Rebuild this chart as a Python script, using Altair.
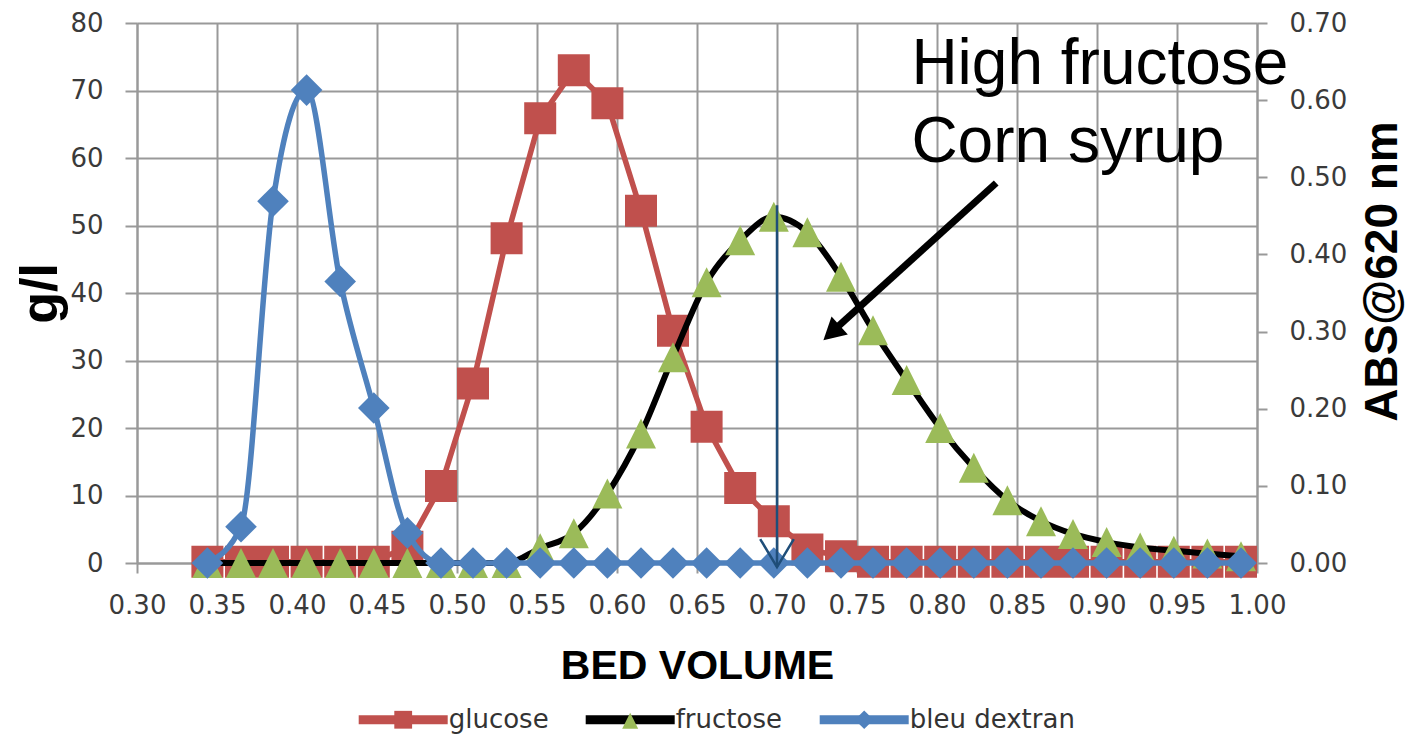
import altair as alt
import pandas as pd

# ---------------- data ----------------
bed_volume = [0.344, 0.365, 0.385, 0.406, 0.427, 0.448, 0.469, 0.490, 0.510, 0.531,
              0.552, 0.573, 0.594, 0.615, 0.635, 0.656, 0.677, 0.698, 0.719, 0.740,
              0.760, 0.781, 0.802, 0.823, 0.844, 0.865, 0.885, 0.906, 0.927, 0.948,
              0.969, 0.990]
glucose = [0.2, 0.2, 0.2, 0.2, 0.2, 0.2, 2.4, 11.4, 26.6, 48.1,
           65.9, 73.0, 68.1, 52.2, 34.4, 20.2, 11.1, 6.2, 2.0, 1.0,
           0.2, 0.2, 0.2, 0.2, 0.2, 0.2, 0.2, 0.2, 0.2, 0.2,
           0.2, 0.2]
fructose = [0.0, 0.0, 0.0, 0.0, 0.0, 0.0, 0.0, 0.0, 0.0, 0.0,
            2.2, 4.4, 10.3, 19.2, 30.5, 41.6, 47.8, 51.3, 49.0, 42.4,
            34.5, 27.1, 20.0, 14.1, 9.3, 6.2, 4.3, 3.1, 2.3, 1.8,
            1.4, 1.0]
bleu_dextran = [0.0, 0.047, 0.469, 0.613, 0.365, 0.201, 0.039, 0.0, 0.0, 0.0,
                0.0, 0.0, 0.0, 0.0, 0.0, 0.0, 0.0, 0.0, 0.0, 0.0,
                0.0, 0.0, 0.0, 0.0, 0.0, 0.0, 0.0, 0.0, 0.0, 0.0,
                0.0, 0.0]

series_names = ["glucose", "fructose", "bleu dextran"]
marker_keys = ["glucose ", "fructose ", "bleu dextran "]
x_ticks = [0.30, 0.35, 0.40, 0.45, 0.50, 0.55, 0.60, 0.65, 0.70, 0.75, 0.80,
           0.85, 0.90, 0.95, 1.00]
left_ticks = [0, 10, 20, 30, 40, 50, 60, 70, 80]
right_ticks = [0.0, 0.1, 0.2, 0.3, 0.4, 0.5, 0.6, 0.7]

# annotation (in bed volume / g/l coordinates)
note_text = ["High fructose", "Corn syrup"]
note_x = [0.784, 0.784]
note_y = [71.0, 59.4]
arrow_from_x = [0.837]
arrow_from_y = [56.3]
arrow_to_x = [0.737]
arrow_to_y = [34.8]
arrow_tip_x = [0.729]
arrow_tip_y = [33.0]
marker_x = [0.70]
marker_top = [53.0]
marker_tip = [-0.6]

# ---------------- styling ----------------
RED = "#C0504D"
GREEN = "#9BBB59"
BLUE = "#4F81BD"
DARKBLUE = "#1F4E79"
GRID = "#999999"
LBL = "#3a3a3a"
TICKFONT = "DejaVu Sans"

TRI = "M0,-1L1,1L-1,1Z"
HEAD = "M0,0L1.1,2L-1.1,2Z"
VHEAD = "M-1.2,-2L0,0L1.2,-2"
BAND = "M-1,-0.1H1V0.1H-1Z"
LEG_SQ = "M-1,0M1,0M-0.2,-0.2H0.2V0.2H-0.2Z"
LEG_TRI = "M-1,0M1,0M0,-0.16L0.18,0.2L-0.18,0.2Z"
LEG_DIA = "M-1,0M1,0M0,-0.21L0.21,0L0,0.21L-0.21,0Z"

df_glu = pd.DataFrame({"x": bed_volume, "y": glucose})
df_fru = pd.DataFrame({"x": bed_volume, "y": fructose})
df_blu = pd.DataFrame({"x": bed_volume, "y": bleu_dextran})
df_note = pd.DataFrame({"x": note_x, "y": note_y, "t": note_text})
df_arrow = pd.DataFrame({"x": arrow_from_x, "y": arrow_from_y, "x2": arrow_to_x, "y2": arrow_to_y})
df_tip = pd.DataFrame({"x": arrow_tip_x, "y": arrow_tip_y})
df_marker = pd.DataFrame({"x": marker_x, "y": marker_top, "y2": marker_tip})
df_mtip = pd.DataFrame({"x": marker_x, "y": marker_tip})
df_leg = pd.DataFrame({"series": series_names, "marker": marker_keys})

x_axis = alt.Axis(values=x_ticks, format=".2f", grid=True, gridColor=GRID, gridWidth=2,
                  domain=True, domainColor=GRID, domainWidth=2, ticks=True, tickColor=GRID,
                  tickWidth=2, tickSize=10, labelFont=TICKFONT, labelFontSize=26,
                  labelColor=LBL, labelPadding=19, labelFlush=False, labelOverlap=False,
                  title="BED VOLUME", titleFont="Liberation Sans", titleFontSize=41,
                  titleFontWeight="bold", titleColor="black", titleBaseline="alphabetic",
                  titleY=115)
left_axis = alt.Axis(values=left_ticks, format="d", grid=True, gridColor=GRID, gridWidth=2,
                     domain=True, domainColor=GRID, domainWidth=2, ticks=True, tickColor=GRID,
                     tickWidth=2, tickSize=12, labelFont=TICKFONT, labelFontSize=26,
                     labelColor=LBL, labelPadding=22, labelOverlap=False,
                     title="g/l", titleFont="Liberation Sans", titleFontSize=52,
                     titleFontWeight="bold", titleColor="black", titleAngle=270,
                     titleBaseline="alphabetic", titleAlign="center", titleX=-81, titleY=270)
right_axis = alt.Axis(orient="right", values=right_ticks, format=".2f", grid=False,
                      domain=True, domainColor=GRID, domainWidth=2, ticks=True, tickColor=GRID,
                      tickWidth=2, tickSize=10, labelFont=TICKFONT, labelFontSize=26,
                      labelColor=LBL, labelPadding=22, labelOverlap=False,
                      title="ABS@620 nm", titleFont="Liberation Sans", titleFontSize=46,
                      titleFontWeight="bold", titleColor="black", titleAngle=270,
                      titleBaseline="alphabetic", titleAlign="center", titleX=139, titleY=248,
                      titleLimit=400)

X = alt.X("x:Q", scale=alt.Scale(domain=[0.30, 1.00], nice=False, zero=False), axis=x_axis)
YL = alt.Y("y:Q", scale=alt.Scale(domain=[0, 80], nice=False), axis=left_axis)
YR = alt.Y("y:Q", scale=alt.Scale(domain=[0, 0.70], nice=False), axis=right_axis)
YA = alt.Y("y:Q", scale=alt.Scale(domain=[0, 80], nice=False), axis=None)

red_line = alt.Chart(df_glu).mark_line(color=RED, strokeWidth=5.5).encode(x=X, y=YL)
red_pts = alt.Chart(df_glu).mark_point(shape="square", filled=True, size=1024, color=RED,
                                       opacity=1).encode(x=X, y=YL)
black_line = alt.Chart(df_fru).mark_line(color="black", strokeWidth=6,
                                         interpolate="monotone").encode(x=X, y=YL)
green_pts = alt.Chart(df_fru).mark_point(shape=TRI, filled=True, size=900, color=GREEN,
                                         opacity=1).encode(x=X, y=YL)

LEG_X = 221.7
LEG_Y = 652
leg_common = dict(orient="none", legendX=LEG_X, legendY=LEG_Y, direction="horizontal",
                  title=None, symbolSize=7921, symbolStrokeWidth=0, symbolOpacity=1,
                  labelFont=TICKFONT, labelFontSize=26, labelColor="#333333",
                  labelOffset=1, columnPadding=37, padding=0, labelLimit=400,
                  labelExpr="trim(datum.label)")
leg_line = alt.Legend(symbolType=BAND, **leg_common)
leg_mark = alt.Legend(labelOpacity=0, **leg_common)

legend_lines = alt.Chart(df_leg).transform_filter("false").mark_point(
    filled=True, opacity=1, shape=BAND).encode(
    color=alt.Color("series:N", scale=alt.Scale(domain=series_names, range=[RED, "black", BLUE]),
                    legend=leg_line))
legend_marks = alt.Chart(df_leg).transform_filter("false").mark_point(
    filled=True, opacity=1).encode(
    fill=alt.Fill("marker:N", scale=alt.Scale(domain=marker_keys, range=[RED, GREEN, BLUE]),
                  legend=leg_mark),
    shape=alt.Shape("marker:N", scale=alt.Scale(domain=marker_keys,
                                                range=[LEG_SQ, LEG_TRI, LEG_DIA]),
                    legend=leg_mark))

layer_left = alt.layer(red_line, red_pts, black_line, green_pts, legend_lines, legend_marks)

blue_line = alt.Chart(df_blu).mark_line(color=BLUE, strokeWidth=5.5,
                                        interpolate="monotone").encode(x=X, y=YR)
blue_pts = alt.Chart(df_blu).mark_point(shape="diamond", filled=True, size=1000, color=BLUE,
                                        opacity=1).encode(x=X, y=YR)
layer_right = alt.layer(blue_line, blue_pts)

marker_rule = alt.Chart(df_marker).mark_rule(color=DARKBLUE, strokeWidth=2.5).encode(
    x=X, y=YA, y2="y2:Q")
marker_head = alt.Chart(df_mtip).mark_point(shape=VHEAD, filled=False, size=784, color=DARKBLUE,
                                            strokeWidth=2.5, opacity=1).encode(x=X, y=YA)
arrow_rule = alt.Chart(df_arrow).mark_rule(color="black", strokeWidth=7).encode(
    x=X, y=YA, x2="x2:Q", y2="y2:Q")
arrow_head = alt.Chart(df_tip).mark_point(shape=HEAD, filled=True, size=484, color="black",
                                          opacity=1, angle=227.7).encode(x=X, y=YA)
note = alt.Chart(df_note).mark_text(align="left", baseline="alphabetic", font="Liberation Sans",
                                    fontSize=64, color="black").encode(x=X, y=YA, text="t:N")
layer_notes = alt.layer(marker_rule, marker_head, arrow_rule, arrow_head, note)

chart = alt.layer(layer_left, layer_right, layer_notes).resolve_scale(
    y="independent"
).properties(
    width=1120, height=540,
    autosize=alt.AutoSizeParams(type="none"),
    padding={"left": 129, "top": 15, "right": 151, "bottom": 174},
    background="white",
).configure_view(stroke=None)

chart.save("out.html", embed_options={"renderer": "svg", "actions": False})
